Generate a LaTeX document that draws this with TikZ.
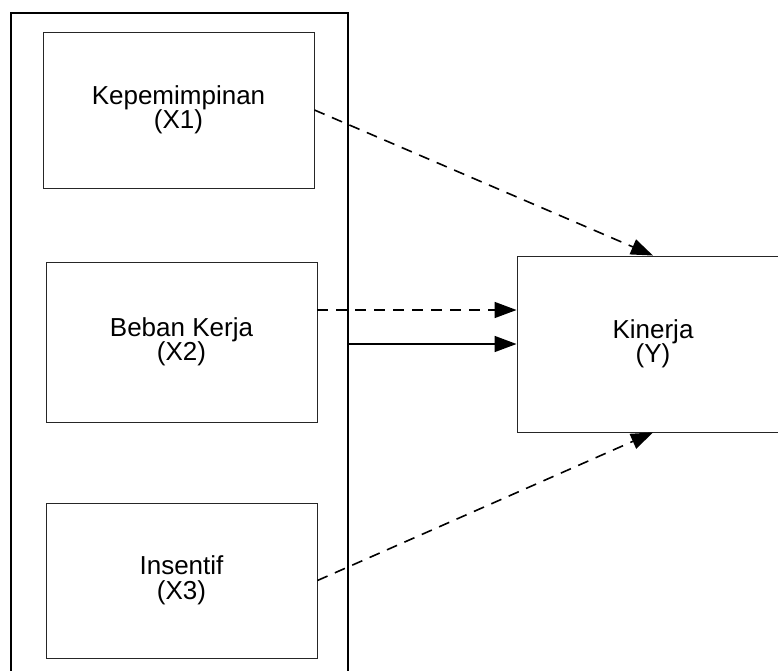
\documentclass[tikz,border=0pt]{standalone}
\usepackage{fontspec}
\setmainfont{Liberation Sans}
\usetikzlibrary{arrows.meta}

\begin{document}
\begin{tikzpicture}[x=1pt, y=-1pt, thick,
	box/.style={rectangle, draw=black!85, line width=0.9pt, align=center, inner sep=0pt,
		font=\fontsize{26}{24.5}\selectfont, minimum width=271pt},
	link/.style={-{Triangle[length=22pt,width=16pt]}, line width=1.6pt},
	dlink/.style={link, dash pattern=on 11pt off 8pt}]
	\useasboundingbox (0,0) rectangle (778,671);
	\node[draw, line width=1.5pt, minimum width=337pt, minimum height=677pt] (outer) at (179.5,351.5) {};
	\node[box, minimum height=156pt] (x1) at (178.5,110) {Kepemimpinan\\(X1)};
	\node[box, minimum height=160pt] (x2) at (181.5,342) {Beban Kerja\\(X2)};
	\node[box, minimum height=155pt] (x3) at (181.5,580.5) {Insentif\\(X3)};
	\node[box, minimum width=272pt, minimum height=176pt] (y) at (653,344) {Kinerja\\(Y)};
	\draw[dlink] (x1.east) -- (y.north);
	\draw[dlink] ([yshift=32pt]x2.east) -- ([yshift=32pt]x2.east -| y.west);
	\draw[link] (outer.east |- y.west) -- (y.west);
	\draw[dlink] (x3.east) -- (y.south);
\end{tikzpicture}
\end{document}
